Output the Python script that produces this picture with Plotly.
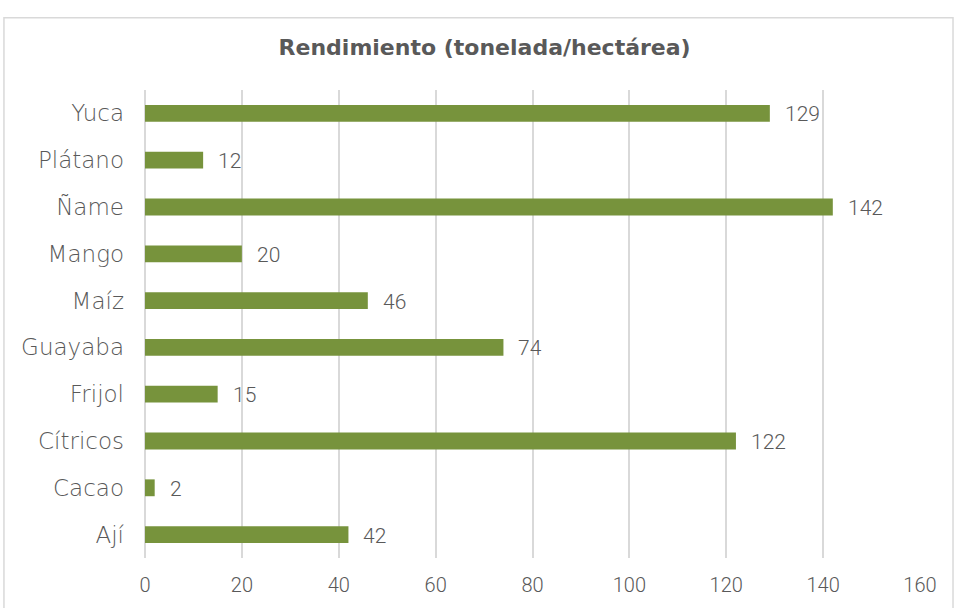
import plotly.graph_objects as go

# data
productos = ['Ají', 'Cacao', 'Cítricos', 'Frijol', 'Guayaba', 'Maíz', 'Mango', 'Ñame', 'Plátano', 'Yuca']
rendimiento = [42, 2, 122, 15, 74, 46, 20, 142, 12, 129]
x_ticks = [0, 20, 40, 60, 80, 100, 120, 140, 160]

TEXT = '#595959'
GRID = '#d9d9d9'
GREEN = '#77933c'
FONT = 'DejaVu Sans'
NUM_FONT = 'Roboto'

fig = go.Figure(go.Bar(
    x=rendimiento,
    y=productos,
    orientation='h',
    marker=dict(color=GREEN, line=dict(width=0)),
    width=0.36,
    hoverinfo='x+y',
))

# value labels to the right of each bar
for p, v in zip(productos, rendimiento):
    fig.add_annotation(x=v, y=p, text=str(v), showarrow=False,
                       xanchor='left', xshift=13, yshift=-1,
                       font=dict(family=NUM_FONT, size=21, color=TEXT, weight=300))

# outer chart border
fig.add_shape(type='rect', xref='paper', yref='paper',
              x0=-0.182, x1=1.0426, y0=-0.11, y1=1.1546,
              line=dict(color=GRID, width=1.5), layer='below')

fig.update_layout(
    width=954, height=608,
    margin=dict(l=145, r=34, t=90, b=50),
    paper_bgcolor='white', plot_bgcolor='white',
    showlegend=False,
    font=dict(family=FONT, color=TEXT, size=20),
    title=dict(text='<b>Rendimiento (tonelada/hectárea)</b>',
               x=0.508, xanchor='center', y=0.923, yanchor='middle',
               font=dict(family=FONT, size=22, color=TEXT)),
    bargap=0.64,
)
fig.update_xaxes(range=[0, 160], tickvals=x_ticks, showgrid=True,
                 gridcolor=GRID, gridwidth=1.5, zeroline=True,
                 zerolinecolor=GRID, zerolinewidth=1.5, showline=False,
                 ticks='', tickfont=dict(family=NUM_FONT, size=20, color=TEXT, weight=300),
                 ticklabelstandoff=13)
fig.update_yaxes(categoryorder='array', categoryarray=productos,
                 showgrid=False, ticks='', showline=False,
                 tickfont=dict(family=FONT, size=23, color=TEXT, weight=300),
                 ticklabelstandoff=20)

fig.write_html("out.html", config={'displayModeBar': False},
               post_script="document.body.style.margin='0';")
